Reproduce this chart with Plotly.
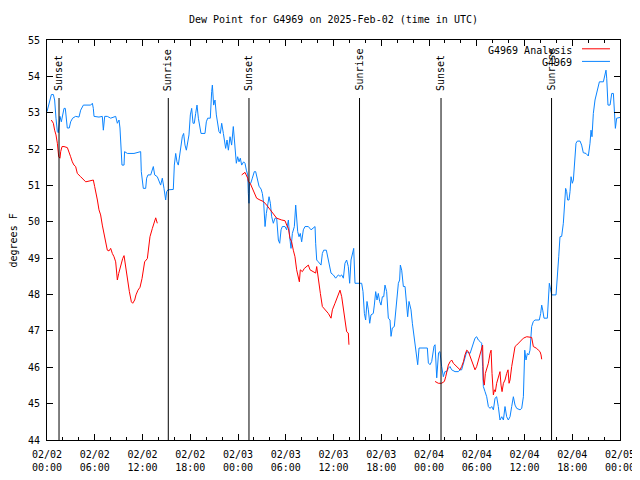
import plotly.graph_objects as go
import pandas as pd

base = pd.Timestamp("2025-02-02 00:00")

# Observed dew point (G4969), hours since 2025-02-02 00:00 UTC
obs_hours = [0.0, 0.3, 0.55, 0.8, 0.96, 1.13, 1.3, 1.42, 1.63, 1.8, 1.97, 2.14, 2.3, 2.39, 2.55, 2.8, 2.97,
             3.22, 3.6, 4.02, 4.23, 4.57, 5.07, 5.49, 5.7, 5.82, 5.91, 6.53, 6.95, 7.08, 7.25, 7.58, 8.0,
             8.63, 8.84, 9.05, 9.17, 9.34, 9.42, 9.68, 9.75, 10.1, 10.93, 11.77, 11.85, 12.1, 12.4, 12.52,
             12.69, 13.03, 13.36, 13.53, 13.86, 14.28, 14.49, 14.7, 14.91, 15.03, 15.2,
             15.87, 16.0, 16.17, 16.33, 16.5, 16.71, 16.84, 17.0, 17.17, 17.34, 17.51, 17.68, 17.84, 18.01,
             18.18, 18.35, 18.51, 18.68, 18.85, 19.02, 19.19, 19.35, 19.85, 20.02, 20.19, 20.52, 20.69,
             20.78, 20.94, 21.11, 21.28, 21.45, 21.61, 21.78, 21.95, 22.16, 22.28, 22.45, 22.62, 22.79,
             23.0, 23.2, 23.41, 23.62, 23.79, 23.96, 24.13, 24.29, 24.46, 24.71, 24.88, 25.05, 25.22,
             25.3, 25.38, 25.45, 25.6, 25.8, 26.05, 26.22, 26.47, 26.64, 26.9, 27.06, 27.23, 27.4,
             27.56, 27.73, 27.9, 28.07, 28.23, 28.44, 28.65, 28.86, 29.07, 29.24, 29.41, 29.57, 29.91,
             30.12, 30.33, 30.49, 30.66, 30.83, 31.08, 31.25, 31.37, 31.5, 31.67, 31.83, 32.0, 32.21,
             32.42, 32.84, 33.18, 33.47, 33.68, 33.76, 33.89, 34.09, 34.43, 34.6, 34.77, 35.1, 35.27,
             35.44, 35.69, 35.98, 36.27, 36.61, 36.82, 37.03, 37.24, 37.44, 37.65, 37.86, 38.03, 38.2,
             38.37, 38.54, 38.7, 39.12, 39.46,
             39.54, 39.71, 39.88, 40.04, 40.21, 40.38, 40.55, 40.71, 41.0, 41.13, 41.3, 41.47, 41.63,
             41.8, 41.97, 42.14, 42.31, 42.47, 42.68, 42.89, 43.1, 43.23, 43.39, 43.64, 43.81, 43.98,
             44.15, 44.31, 44.4, 44.57, 44.78, 44.99, 45.19, 45.32, 45.49, 45.74, 45.91, 46.08, 46.24,
             46.45, 46.58, 46.75, 47.08, 47.5, 47.79, 47.92, 48.13, 48.34, 48.46, 48.63, 48.76, 48.88,
             48.97, 49.2,
             49.38, 49.59, 49.8, 50.0, 50.22, 50.43, 50.64, 50.85, 51.27, 51.69, 51.9, 52.1, 52.32, 52.52,
             52.74, 53.16, 53.36, 53.57, 53.78, 53.99, 54.2, 54.41, 54.62, 54.74, 54.83, 55.04, 55.25,
             55.46, 55.67, 55.88, 56.09, 56.3, 56.5, 56.71, 56.92, 57.14, 57.35, 57.55, 57.76, 57.97,
             58.18, 58.39, 58.6, 58.81, 59.02, 59.44, 59.65, 59.86, 59.94, 60.03, 60.19, 60.36, 60.53,
             60.69, 60.9, 61.11, 61.32,
             61.86, 62.03, 62.16, 62.29, 62.45, 62.87, 63.0, 63.12, 63.29, 63.42, 63.96, 64.13, 64.3,
             64.46, 64.67, 64.88, 65.05, 65.17, 65.3, 65.42, 65.59, 65.72, 65.85, 66.01, 66.14, 66.31,
             66.47, 66.64, 66.98, 67.18, 67.39, 67.73, 68.02, 68.23, 68.36, 68.48, 68.65, 68.86, 69.07,
             69.28, 69.41, 69.91, 70.12, 70.24, 70.33, 70.41, 70.49, 70.75, 70.96, 71.17, 71.29, 71.42,
             71.58, 71.79, 72.0]
obs_values = [53.03, 53.3, 53.5, 53.5, 53.35, 52.85, 52.48, 52.45, 52.9, 52.75, 52.9, 53.12, 53.12, 52.85,
              52.58, 52.58, 52.75, 52.85, 52.9, 52.88, 53.07, 53.21, 53.21, 53.21, 53.26, 53.12, 52.9,
              52.88, 52.9, 52.52, 52.9, 52.9, 52.85, 52.9, 52.71, 52.8, 52.58, 51.93, 51.56, 51.56, 51.93,
              51.88, 51.88, 51.93, 51.38, 50.92, 50.92, 51.2, 51.29, 51.29, 51.52, 51.29, 51.24, 51.01,
              51.2, 50.92, 50.6, 50.83, 50.88,
              50.89, 51.56, 51.88, 51.65, 51.56, 51.93, 52.2, 52.34, 52.43, 52.11, 51.97, 52.16, 52.39,
              52.94, 53.12, 52.71, 52.71, 52.98, 53.21, 52.85, 52.66, 52.43, 52.43, 52.75, 52.85, 52.85,
              53.58, 53.76, 53.21, 53.35, 52.94, 52.75, 52.48, 52.43, 52.71, 52.43, 52.3, 52.02, 52.25,
              51.97, 52.34, 52.11, 52.62, 52.02, 51.61, 51.79, 51.65, 51.75, 51.56, 51.65, 51.61, 51.42,
              51.29, 50.78, 50.51, 51.06, 51.06, 51.2, 51.38, 51.38, 51.15, 50.98, 50.9, 50.78, 50.51,
              49.87, 50.23, 50.42, 50.69, 50.51, 50.14, 49.96, 50.1, 50.1, 49.5, 49.41, 49.78, 49.87,
              49.87, 49.78, 50.05, 49.59, 49.27, 49.68, 49.87, 50.46, 50.05, 49.73, 49.59, 49.68, 49.45,
              49.78, 49.87, 49.87, 49.78, 49.82, 49.87, 49.41, 48.95, 48.9, 48.81, 49.13, 49.22, 49.22,
              49.04, 48.77, 48.59, 48.54, 48.45, 48.54, 48.5, 48.54, 48.45, 48.86, 48.95, 48.77, 48.31,
              48.95, 49.13, 49.27, 48.31, 48.31, 48.31,
              48.31, 48.08, 47.48, 47.3, 47.81, 47.58, 47.21, 47.44, 47.48, 47.71, 48.08, 47.85, 48.03,
              47.81, 47.71, 47.94, 47.94, 48.26, 48.08, 47.35, 47.3, 46.85, 47.08, 47.12, 47.48, 48.03,
              48.31, 48.4, 48.81, 48.67, 48.22, 48.22, 47.76, 47.39, 47.81, 47.58, 47.21, 46.94, 46.67,
              46.3, 46.07, 46.53, 46.53, 46.53, 46.53, 46.12, 46.07, 46.16, 46.39, 46.58, 46.62, 45.94,
              45.71, 46.4,
              46.43, 46.02, 45.74, 45.88, 45.88, 45.97, 46.02, 45.93, 45.88, 45.88, 45.93, 45.93, 46.11,
              46.29, 46.43, 46.38, 46.52, 46.71, 46.8, 46.84, 46.75, 46.71, 46.66, 46.02, 45.47, 45.33,
              45.19, 44.92, 44.87, 44.92, 44.83, 45.15, 45.19, 44.92, 44.55, 44.64, 44.55, 44.92, 44.64,
              44.55, 44.64, 44.92, 45.19, 44.96, 44.87, 44.83, 44.87, 45.19, 45.93, 46.47, 46.2, 46.38,
              46.34, 46.47, 47.12, 47.26, 47.3,
              47.3, 47.48, 47.71, 47.57, 47.35, 47.35, 47.85, 48.31, 48.13, 47.99, 47.99, 48.67, 49.04,
              49.59, 49.6, 49.96, 50.6, 50.92, 50.83, 50.6, 50.6, 50.83, 51.24, 51.06, 51.15, 51.7,
              52.16, 52.22, 52.22, 52.11, 51.9, 51.88, 51.81, 52.16, 52.52, 52.34, 52.98, 53.35, 53.58,
              53.81, 53.85, 53.85, 54.08, 54.17, 53.95, 53.53, 53.21, 53.21, 53.53, 53.53, 53.03, 52.57,
              52.85, 52.87, 52.87]

# Analysis dew point (G4969 Analysis); None marks gaps
ana_hours = [0.54, 0.8, 0.96, 1.13, 1.3, 1.38, 1.47, 1.63, 1.72, 1.89, 2.14, 2.56, 2.77, 2.97, 3.18, 3.39,
             3.6, 3.81, 4.23, 4.65, 4.86, 5.28, 5.82, 5.99, 6.12, 6.33, 6.53, 6.74, 6.95, 7.16, 7.37,
             7.58, 7.79, 8.0, 8.21, 8.42, 8.63, 8.76, 8.84, 9.01, 9.17, 9.34, 9.51, 9.68, 9.84, 10.01,
             10.18, 10.35, 10.6, 10.77, 11.02, 11.18, 11.43, 11.69, 11.94, 12.11, 12.27, 12.61, 12.82,
             12.94, 13.24, 13.45, 13.66, 13.86,
             19.0,
             24.46, 24.88, 25.22, 25.3, 25.55, 25.93, 26.34, 26.76, 27.18, 27.6, 28.02, 28.44, 28.86,
             29.49, 29.91, 30.12, 30.33, 30.53, 30.74, 30.95, 31.16, 31.37, 31.58, 31.71, 31.83, 32.09,
             32.34, 32.59, 32.84, 33.05, 33.47, 33.76, 33.89, 34.01, 34.18, 34.35, 34.6, 34.93, 35.35,
             35.69, 35.86, 36.19, 36.53, 36.82, 37.03, 37.24, 37.44, 37.65, 37.86, 37.94,
             43.0,
             48.76, 49.17, 49.59, 49.93, 50.1, 50.26, 50.43, 50.64, 50.85, 51.06, 51.27, 51.48, 51.69,
             51.9, 52.1, 52.32, 52.52, 52.74, 52.95, 53.16, 53.36, 53.57, 53.78, 53.99, 54.2, 54.41,
             54.62, 54.74, 54.83, 54.95, 55.08, 55.25, 55.46, 55.67, 55.8, 55.92, 56.09, 56.22, 56.34,
             56.5, 56.71, 56.92, 57.05, 57.18, 57.35, 57.55, 57.76, 57.93, 58.06, 58.18, 58.39, 58.6,
             58.81, 59.02, 59.44, 59.86, 60.28, 60.69, 60.9, 61.11, 61.53, 61.74, 61.95, 62.08, 62.16]
ana_values = [52.8, 52.71, 52.52, 52.39, 52.16, 51.98, 51.79, 51.75, 51.93, 52.07, 52.07, 52.04, 51.93,
              51.79, 51.65, 51.56, 51.52, 51.33, 51.24, 51.15, 51.1, 51.12, 51.15, 50.97, 50.78, 50.6,
              50.33, 50.19, 49.91, 49.68, 49.41, 49.22, 49.2, 49.27, 49.13, 49.04, 48.9, 48.67, 48.4,
              48.58, 48.72, 48.86, 48.99, 49.07, 48.81, 48.49, 48.26, 48.08, 47.8, 47.76, 47.85, 47.99,
              48.12, 48.2, 48.44, 48.67, 48.9, 48.99, 49.36, 49.59, 49.82, 50.0, 50.11, 49.96,
              None,
              51.29, 51.36, 51.2, 51.11, 51.05, 50.83, 50.65, 50.6, 50.56, 50.46, 50.33, 50.23, 50.1,
              50.05, 50.03, 49.91, 49.82, 49.55, 49.45, 49.22, 49.04, 48.68, 48.49, 48.35, 48.68, 48.63,
              48.72, 48.77, 48.81, 48.68, 48.63, 48.59, 48.77, 48.54, 48.31, 48.03, 47.67, 47.58, 47.48,
              47.35, 47.58, 47.76, 47.94, 48.12, 47.94, 47.58, 47.3, 46.98, 46.94, 46.62,
              None,
              45.61, 45.56, 45.56, 45.61, 45.74, 45.88, 46.06, 46.15, 46.2, 46.11, 46.06, 46.02, 45.97,
              45.93, 46.02, 46.15, 46.34, 46.47, 46.43, 46.29, 46.15, 46.06, 45.93, 46.02, 46.2, 46.38,
              46.52, 46.61, 45.65, 45.51, 45.83, 45.93, 46.11, 46.38, 46.47, 45.83, 45.24, 45.38, 45.33,
              45.56, 45.74, 45.88, 45.51, 45.33, 45.56, 45.65, 45.83, 45.93, 45.56, 45.65, 46.02, 46.29,
              46.57, 46.61, 46.71, 46.8, 46.84, 46.82, 46.82, 46.57, 46.52, 46.47, 46.43, 46.34, 46.22]

sun_hours = [1.51, 15.24, 25.38, 39.27, 49.51, 63.4]
sun_labels = ["Sunset", "Sunrise", "Sunset", "Sunrise", "Sunset", "Sunrise"]

tick_hours = list(range(0, 73, 6))
tick_labels = ["02/02<br>00:00", "02/02<br>06:00", "02/02<br>12:00", "02/02<br>18:00",
               "02/03<br>00:00", "02/03<br>06:00", "02/03<br>12:00", "02/03<br>18:00",
               "02/04<br>00:00", "02/04<br>06:00", "02/04<br>12:00", "02/04<br>18:00",
               "02/05<br>00:00"]
y_ticks = list(range(44, 56))

series_names = ["G4969 Analysis", "G4969"]
series_colors = ["#ff0000", "#0a84ff"]

def to_time(hours):
    return [base + pd.Timedelta(hours=h) for h in hours]

FONT = "DejaVu Sans Mono"

fig = go.Figure()
fig.add_trace(go.Scatter(x=to_time(obs_hours), y=obs_values, mode="lines",
                         line=dict(color=series_colors[1], width=1), name=series_names[1],
                         showlegend=False))
fig.add_trace(go.Scatter(x=to_time(ana_hours), y=ana_values, mode="lines",
                         line=dict(color=series_colors[0], width=1), name=series_names[0],
                         showlegend=False, connectgaps=False))

shapes = []
annotations = []
for h, lab in zip(sun_hours, sun_labels):
    t = base + pd.Timedelta(hours=h)
    shapes.append(dict(type="line", xref="x", yref="paper", x0=t, x1=t, y0=0, y1=0.855,
                       line=dict(color="black", width=1)))
    annotations.append(dict(x=t, xref="x", y=0.8675, yref="paper", text=lab, textangle=-90,
                            showarrow=False, xanchor="center", yanchor="bottom",
                            font=dict(family=FONT, size=10, color="black")))

# legend (gnuplot style: text then sample line)
leg_y = [0.975, 0.9435]
for name, col, yy in zip(series_names, series_colors, leg_y):
    annotations.append(dict(x=0.9197, xref="paper", y=yy, yref="paper", text=name,
                            showarrow=False, xanchor="right", yanchor="middle",
                            font=dict(family=FONT, size=10, color="black")))
    shapes.append(dict(type="line", xref="paper", yref="paper", x0=0.9337, x1=0.9825,
                       y0=yy + 0.003, y1=yy + 0.003, line=dict(color=col, width=1)))

annotations.append(dict(x=-0.0585, xref="paper", y=0.5, yref="paper", text="degrees F",
                        textangle=-90, showarrow=False, xanchor="center", yanchor="middle",
                        font=dict(family=FONT, size=10, color="black")))

# The page body keeps its default 8px margin; margins are set so the plot area
# lands at x 47..620, y 40..440 in the 640x480 window.
fig.update_layout(
    width=640, height=480,
    margin=dict(l=39, r=28, t=32, b=48, pad=0),
    paper_bgcolor="white", plot_bgcolor="white",
    font=dict(family=FONT, size=10, color="black"),
    title=dict(text="Dew Point for G4969 on 2025-Feb-02 (time in UTC)", x=0.5, xref="paper",
               xanchor="center", y=1 - 11 / 480, yanchor="middle",
               font=dict(family=FONT, size=10, color="black")),
    shapes=shapes, annotations=annotations, showlegend=False,
)
fig.update_xaxes(
    type="date",
    range=[base, base + pd.Timedelta(hours=72)],
    tickvals=to_time(tick_hours), ticktext=tick_labels,
    ticks="inside", ticklen=6, tickcolor="black", tickwidth=1,
    showline=True, linecolor="black", linewidth=1, mirror="ticks",
    showgrid=False, zeroline=False, ticklabelstandoff=5, automargin=False,
    minor=dict(ticks="inside", ticklen=3, tickcolor="black", dtick=2 * 3600 * 1000,
               showgrid=False),
)
fig.update_yaxes(
    range=[44, 55], tickvals=y_ticks,
    ticks="inside", ticklen=6, tickcolor="black", tickwidth=1,
    showline=True, linecolor="black", linewidth=1, mirror="ticks",
    showgrid=False, zeroline=False, ticklabelstandoff=4, automargin=False,
)

fig.write_html("out.html", config={"displayModeBar": False})
